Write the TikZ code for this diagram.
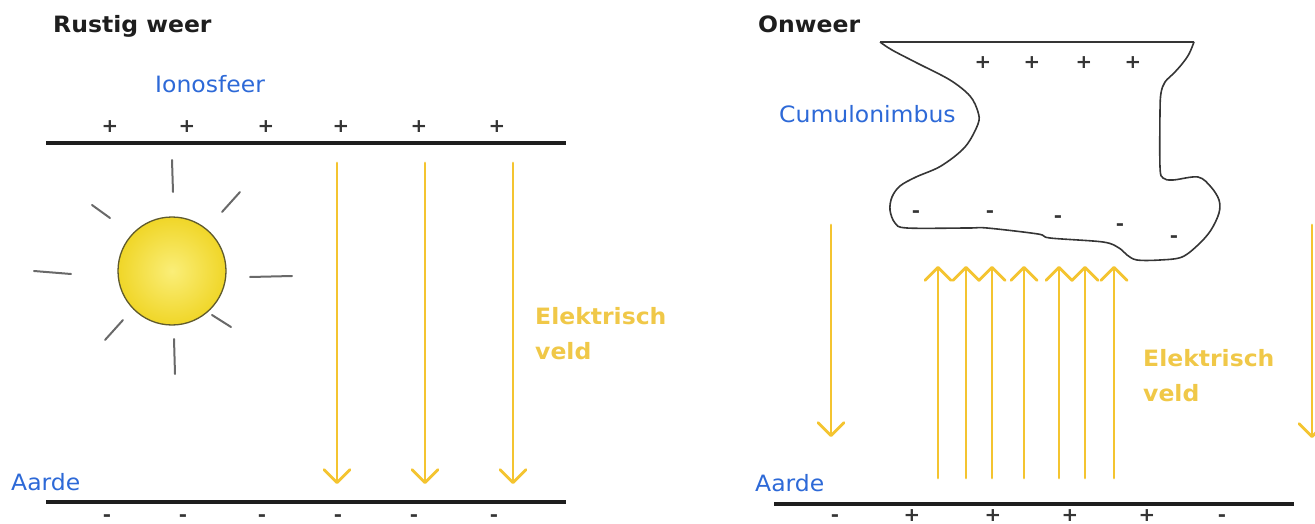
\documentclass[tikz,border=0pt]{standalone}
\usepackage{fontspec}
\setmainfont{DejaVu Sans}[FakeStretch=1.045]
\usetikzlibrary{arrows.meta}

\definecolor{skyblue}{RGB}{45,105,215}
\definecolor{fieldgold}{RGB}{244,196,48}
\definecolor{fieldtext}{RGB}{240,200,72}
\definecolor{ink}{RGB}{30,30,30}
\definecolor{rayg}{RGB}{105,105,105}
\definecolor{sunrim}{RGB}{95,90,45}
\definecolor{suncore}{RGB}{250,238,120}
\definecolor{sunedge}{RGB}{240,214,40}

\begin{document}
\begin{tikzpicture}[x=1pt,y=-1pt,
  title/.style={font=\fontsize{22.5}{27}\selectfont\bfseries, text=ink, anchor=base west, inner sep=0pt},
  place/.style={font=\fontsize{22.5}{27}\selectfont, text=skyblue, anchor=base west, inner sep=0pt},
  fieldlabel/.style={font=\fontsize{22.5}{27}\selectfont\bfseries, text=fieldtext, anchor=base west, inner sep=0pt},
  posch/.style={font=\fontsize{19}{23}\selectfont\bfseries, text=ink!90, inner sep=0pt, anchor=center},
  negch/.style={font=\fontsize{19}{23}\selectfont\bfseries, text=ink!90, inner sep=0pt, anchor=base, yshift=-5.5pt},
  plate/.style={draw=ink, line width=3.6pt},
  fieldline/.style={draw=fieldgold, line width=2.8pt, line cap=round,
    -{Straight Barb[length=13pt,width=26pt,line cap=round,line join=round]}},
  ray/.style={draw=rayg, line width=2pt, line cap=round},
  cloudline/.style={draw=ink!90, line width=1.6pt, line join=round},
]
\useasboundingbox (0,0) rectangle (1315,524);

%% ---------------- calm weather ----------------
\node[title] (calm) at (53,33) {Rustig weer};
\node[place] (iono) at (155,93) {Ionosfeer};
\node[place] (earthL) at (11,490) {Aarde};

% ionosphere and ground plates
\coordinate (ionoW) at (46,143);  \coordinate (ionoE) at (566,143);
\coordinate (groundLW) at (46,502); \coordinate (groundLE) at (566,502);
\draw[plate] (ionoW) -- (ionoE);
\draw[plate] (groundLW) -- (groundLE);

% charges
\foreach \x [count=\i] in {110,187,266,341,419,497}
  \node[posch] (ionoq\i) at (\x,127) {+};
\foreach \x [count=\i] in {107,183,262,338,414,494}
  \node[negch] (groundLq\i) at (\x,516) {-};

% the sun
\node[circle, draw=sunrim, line width=1.3pt, inner color=suncore, outer color=sunedge,
      minimum size=108pt, inner sep=0pt] (sun) at (172,271) {};
\draw[ray] (172,160) -- (173,192);
\draw[ray] (92,205) -- (110,218);
\draw[ray] (240,192) -- (222,212);
\draw[ray] (34,271) -- (71,274);
\draw[ray] (250,277) -- (292,276);
\draw[ray] (123,320) -- (105,340);
\draw[ray] (212,315) -- (231,327);
\draw[ray] (174,339) -- (175,374);

% downward field
\foreach \x [count=\i] in {337,425,513} {
  \coordinate (calmtop\i) at (\x,163);
  \coordinate (calmbot\i) at (\x,484);
  \draw[fieldline] (calmtop\i) -- (calmbot\i);
}
\node[fieldlabel] (fieldL1) at (535,324) {Elektrisch};
\node[fieldlabel] (fieldL2) at (535,359) {veld};

%% ---------------- thunderstorm ----------------
\node[title] (storm) at (758,33) {Onweer};
\node[place] (cumulo) at (779,123) {Cumulonimbus};
\node[place] (earthR) at (755,491) {Aarde};

% cumulonimbus outline
\draw[cloudline] (880,42) -- (1194,42)
  plot[smooth, tension=0.55] coordinates {
    (1194,42) (1189,54) (1182,64) (1174,73) (1165,82) (1161,93) (1160,112)
    (1160,167) (1163,178) (1173,180) (1198,177) (1211,187) (1219,200)
    (1219,213) (1211,230) (1199,244) (1182,257) (1160,260) (1137,260)
    (1127,255) (1119,248) (1103,242) (1050,238) (1038,234) (987,228)
    (968,228) (907,228) (895,223) (890,210) (892,197) (900,186) (916,177)
    (941,166) (965,147) (978,124) (978,112) (970,96) (950,80) (917,63)
    (892,50) (880,42)};

% cloud charges
\foreach \x [count=\i] in {983,1032,1084,1133}
  \node[posch] (cloudq\i) at (\x,63) {+};
\foreach \x/\y [count=\i] in {916/212,990/212,1058/217,1120/225,1174/237}
  \node[negch] (cloudn\i) at (\x,\y) {-};

% ground plate and its charges
\coordinate (groundRW) at (774,504); \coordinate (groundRE) at (1294,504);
\draw[plate] (groundRW) -- (groundRE);
\node[negch] (groundRq1) at (835,516) {-};
\foreach \x [count=\i from 2] in {912,993,1070,1147}
  \node[posch] (groundRq\i) at (\x,516) {+};
\node[negch] (groundRq6) at (1222,516) {-};

% fair-weather field beside the storm
\coordinate (sideWtop) at (831,225); \coordinate (sideWbot) at (831,437);
\coordinate (sideEtop) at (1312,225); \coordinate (sideEbot) at (1312,438);
\draw[fieldline] (sideWtop) -- (sideWbot);
\draw[fieldline] (sideEtop) -- (sideEbot);

% reversed field under the cloud
\foreach \x [count=\i] in {938,966,992,1024,1059,1085,1114} {
  \coordinate (upbot\i) at (\x,478);
  \coordinate (uptop\i) at (\x,266);
  \draw[fieldline] (upbot\i) -- (uptop\i);
}
\node[fieldlabel] (fieldR1) at (1143,366) {Elektrisch};
\node[fieldlabel] (fieldR2) at (1143,401) {veld};
\end{tikzpicture}
\end{document}
